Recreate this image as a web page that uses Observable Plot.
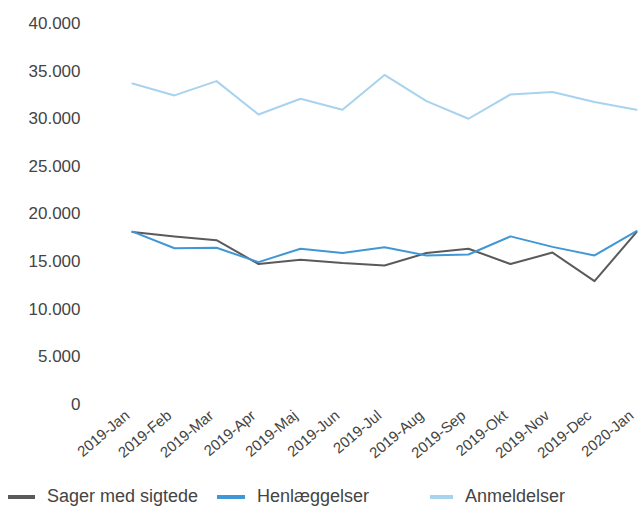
<!DOCTYPE html>
<html>
<head>
<meta charset="utf-8">
<script src="https://cdn.jsdelivr.net/npm/d3@7"></script>
<script src="https://cdn.jsdelivr.net/npm/@observablehq/plot@0.6"></script>
<style>
  body { margin: 0; background: #fff; font-family: "Liberation Sans", Arial, sans-serif; }
  #legend { position: relative; height: 24px; font-size: 18px; color: #444; }
</style>
</head>
<body>
<div id="chart"></div>
<div id="legend"></div>
<script>
const months = ["2019-Jan","2019-Feb","2019-Mar","2019-Apr","2019-Maj","2019-Jun","2019-Jul","2019-Aug","2019-Sep","2019-Okt","2019-Nov","2019-Dec","2020-Jan"];
const sagerMedSigtede = [18100,17650,17250,14750,15200,14850,14600,15900,16350,14750,15950,12950,18100];
const henlaeggelser   = [18150,16400,16450,14950,16350,15900,16500,15650,15750,17650,16550,15650,18200];
const anmeldelser     = [33700,32450,33950,30450,32100,30950,34600,31850,30000,32550,32800,31750,30950];
const yTicks = [0,5000,10000,15000,20000,25000,30000,35000,40000];

const seriesNames = ["Sager med sigtede","Henlæggelser","Anmeldelser"];
const seriesColors = ["#5a5a5a","#3f97d6","#a8d3ee"];
const seriesValues = [sagerMedSigtede, henlaeggelser, anmeldelser];

const rows = [];
seriesNames.forEach((s, i) => months.forEach((m, j) => rows.push({series: s, month: m, value: seriesValues[i][j]})));

const fmt = v => v === 0 ? "0" : d3.format(",")(v).replace(/,/g, ".");

const chart = Plot.plot({
  width: 643,
  height: 486,
  marginLeft: 127,
  marginRight: 3,
  marginTop: 23,
  marginBottom: 82,
  style: {fontFamily: "'Liberation Sans', Arial, sans-serif", color: "#444", background: "#fff"},
  x: {type: "point", domain: months, padding: 0, label: null},
  y: {domain: [0, 40000], label: null},
  color: {domain: seriesNames, range: seriesColors},
  marks: [
    Plot.axisY({ticks: yTicks, tickFormat: fmt, tickSize: 0, tickPadding: 47, fontSize: 17, label: null}),
    Plot.axisX({tickSize: 0, tickRotate: -40, tickPadding: 9, dx: -5, fontSize: 15, label: null}),
    Plot.line(rows.filter(d => d.series === "Anmeldelser"), {x: "month", y: "value", stroke: "series", strokeWidth: 2}),
    Plot.line(rows.filter(d => d.series === "Sager med sigtede"), {x: "month", y: "value", stroke: "series", strokeWidth: 2}),
    Plot.line(rows.filter(d => d.series === "Henlæggelser"), {x: "month", y: "value", stroke: "series", strokeWidth: 2})
  ]
});
document.getElementById("chart").appendChild(chart);

const legendPos = [{sw: 8, tx: 47}, {sw: 217, tx: 257}, {sw: 430, tx: 465}];
const legend = document.getElementById("legend");
seriesNames.forEach((s, i) => {
  const sw = document.createElement("span");
  sw.style.cssText = `position:absolute;left:${legendPos[i].sw}px;top:9px;width:${legendPos[i].tx - legendPos[i].sw - 12}px;height:4px;background:${seriesColors[i]}`;
  legend.appendChild(sw);
  const t = document.createElement("span");
  t.textContent = s;
  t.style.cssText = `position:absolute;left:${legendPos[i].tx}px;top:0px;`;
  legend.appendChild(t);
});
</script>
</body>
</html>
